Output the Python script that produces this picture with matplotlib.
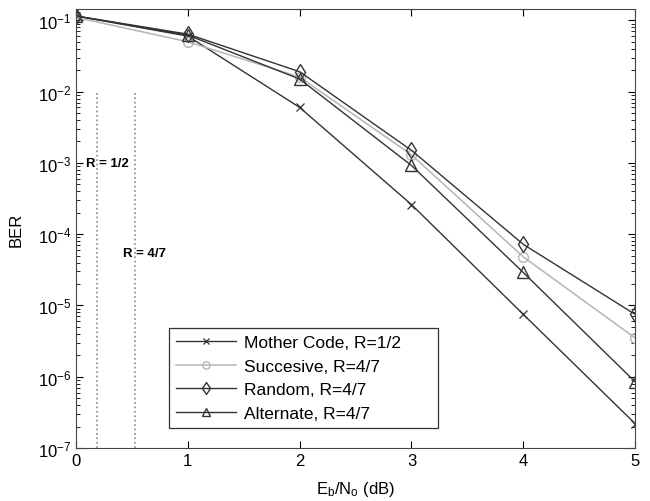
import numpy as np
import matplotlib
matplotlib.use('Agg')
import matplotlib.pyplot as plt

plt.rcParams['font.family'] = ['Liberation Sans', 'DejaVu Sans']
plt.rcParams['mathtext.fontset'] = 'custom'
plt.rcParams['mathtext.rm'] = 'Liberation Sans'
plt.rcParams['mathtext.it'] = 'Liberation Sans'

ebno = [0, 1, 2, 3, 4, 5]
mother = [0.115, 0.060, 6.0e-3, 2.6e-4, 7.5e-6, 2.2e-7]
succesive = [0.110, 0.050, 0.016, 1.3e-3, 4.8e-5, 3.5e-6]
random_ = [0.115, 0.064, 0.019, 1.5e-3, 7.2e-5, 7.5e-6]
alternate = [0.115, 0.062, 0.015, 9.2e-4, 2.9e-5, 8.5e-7]

rate_lines = [0.19, 0.53]

fig = plt.figure(figsize=(6.5, 5.02), dpi=100)
ax = fig.add_axes([0.117, 0.1056, 0.86, 0.874])

dark = '#333333'
ax.semilogy(ebno, mother, color=dark, lw=1.0, marker='x', ms=6, mew=0.9,
            label='Mother Code, R=1/2')
ax.semilogy(ebno, succesive, color='#b5b5b5', lw=1.1, marker='o', ms=7, mew=1.0,
            mfc='none', label='Succesive, R=4/7')
ax.semilogy(ebno, random_, color=dark, lw=1.0, marker='d', ms=8, mew=1.0,
            mfc='none', label='Random, R=4/7')
ax.semilogy(ebno, alternate, color=dark, lw=1.0, marker='^', ms=8, mew=1.0,
            mfc='none', label='Alternate, R=4/7')

for xv in rate_lines:
    ax.plot([xv, xv], [1e-7, 1e-2], color='#888888', lw=1.2, ls=':')
ax.text(0.09, 1e-3, 'R = 1/2', fontsize=9.5, fontweight='bold', va='center')
ax.text(0.42, 5.5e-5, 'R = 4/7', fontsize=9.5, fontweight='bold', va='center')

ax.set_xlim(0, 5)
ax.set_ylim(1e-7, 0.143)
ax.set_xticks([0, 1, 2, 3, 4, 5])
ax.tick_params(which='both', direction='in', top=True, right=True, labelsize=12)
ax.tick_params(which='major', length=5)
ax.tick_params(which='minor', length=3)
for s in ax.spines.values():
    s.set_color('#444444')
ax.set_xlabel('E$_\\mathrm{b}$/N$_\\mathrm{o}$ (dB)', fontsize=12, labelpad=8)
ax.set_ylabel('BER', fontsize=12, labelpad=10)

leg = ax.legend(loc='lower left', bbox_to_anchor=(0.166, 0.046, 0.481, 0.232),
                mode='expand', fontsize=12.5,
                fancybox=False, framealpha=1, edgecolor='#333333',
                handlelength=3.45, handletextpad=0.5, borderpad=0.4,
                labelspacing=0.48, markerscale=0.75, borderaxespad=0)
leg.get_frame().set_linewidth(0.9)

fig.savefig('out.png', dpi=100)
